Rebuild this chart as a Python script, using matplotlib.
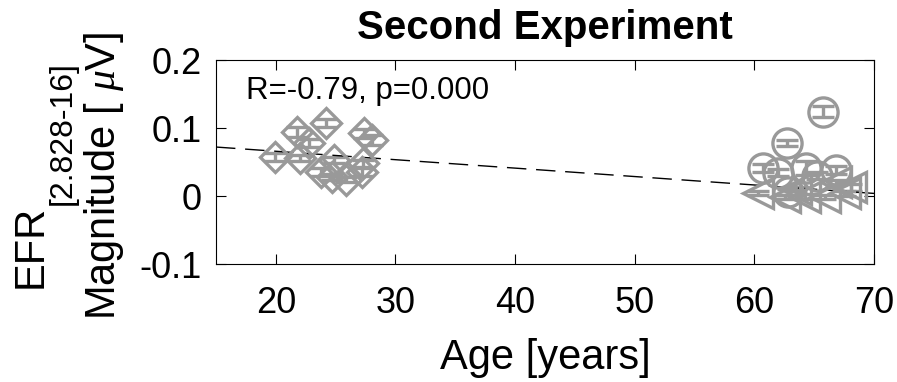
import numpy as np
import matplotlib
matplotlib.use("Agg")
import matplotlib.pyplot as plt

# young listeners (diamonds)
young_age = [19.9, 21.8, 22.0, 22.8, 24.2, 24.9, 23.8, 24.7, 25.9, 27.2, 27.3, 27.4, 28.0]
young_efr = [0.057, 0.094, 0.056, 0.078, 0.107, 0.053, 0.035, 0.028, 0.024, 0.035, 0.048, 0.092, 0.082]
young_err = [0.006, 0.007, 0.005, 0.006, 0.006, 0.005, 0.006, 0.005, 0.004, 0.006, 0.005, 0.006, 0.007]

# older listeners (circles)
old_c_age = [65.75, 62.7, 60.75, 62.0, 64.3, 66.8, 65.2, 62.8]
old_c_efr = [0.124, 0.078, 0.041, 0.034, 0.041, 0.038, 0.030, 0.006]
old_c_err = [0.008, 0.004, 0.006, 0.005, 0.010, 0.006, 0.005, 0.004]

# older listeners (left triangles)
old_t_age = [60.3, 62.6, 64.2, 65.9, 67.6, 68.1, 66.8, 63.5]
old_t_efr = [0.004, -0.002, -0.001, -0.002, 0.004, 0.013, 0.020, 0.010]
old_t_err = [0.003, 0.003, 0.004, 0.003, 0.004, 0.005, 0.004, 0.003]

# linear fit line
fit_x = [15, 70]
fit_slope = -0.00124
fit_icpt = 0.0906

gray = "#999999"
W, H = 897, 382

plt.rcParams["font.family"] = ["Liberation Sans", "DejaVu Sans"]
plt.rcParams["mathtext.fontset"] = "custom"
plt.rcParams["mathtext.rm"] = "Liberation Sans"
plt.rcParams["mathtext.it"] = "Liberation Serif:italic"
fig = plt.figure(figsize=(W / 100, H / 100), dpi=100)
ax = fig.add_axes([216 / W, 1 - 264 / H, (874 - 216) / W, (264 - 60) / H])

kw = dict(color=gray, mfc="none", mec=gray, mew=2.4, elinewidth=2.4, capsize=8, capthick=2.4, ls="none")
ax.errorbar(young_age, young_efr, yerr=young_err, marker="D", ms=15, **kw)
ax.errorbar(old_c_age, old_c_efr, yerr=old_c_err, marker="o", ms=21, **kw)
ax.errorbar(old_t_age, old_t_efr, yerr=old_t_err, marker="<", ms=21, **kw)

fx = np.array(fit_x)
ax.plot(fx, fit_icpt + fit_slope * fx, "k--", lw=1, dashes=(14, 7))

ax.text(17.5, 0.155, "R=-0.79, p=0.000", fontsize=22.5, va="center")

ax.set_xlim(15, 70)
ax.set_ylim(-0.1, 0.2)
ax.set_xticks([20, 30, 40, 50, 60, 70])
ax.set_yticks([-0.1, 0, 0.1, 0.2])
ax.set_yticklabels(["-0.1", "0", "0.1", "0.2"])
ax.tick_params(direction="in", length=7, width=0.8, labelsize=26, top=True, right=True)
ax.tick_params(axis="y", pad=10)
ax.tick_params(axis="x", pad=16)
for s in ax.spines.values():
    s.set_linewidth(0.8)

ax.set_title("Second Experiment", fontsize=29, fontweight="bold", pad=15)
ax.set_xlabel("Age [years]", fontsize=30, labelpad=12)

# two-line y label, subscript drawn as its own text
fig.text(31 / W, 1 - 246 / H, "EFR", fontsize=30, rotation=90, ha="center", va="center")
fig.text(63 / W, 1 - 133 / H, "[2.828-16]", fontsize=23, rotation=90, ha="center", va="center")
fig.text(104 / W, 1 - 176 / H, "Magnitude [ $\\mu$V]", fontsize=30, rotation=90, ha="center", va="center")

fig.savefig("out.png", dpi=100)
